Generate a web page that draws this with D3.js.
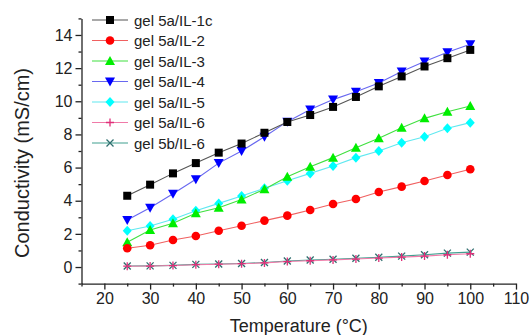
<!DOCTYPE html>
<html>
<head>
<meta charset="utf-8">
<script src="https://cdn.jsdelivr.net/npm/d3@7"></script>
<style>
  body { margin: 0; background: #fff; }
  svg text { font-family: Arial, "Liberation Sans", sans-serif; fill: #222; }
</style>
</head>
<body>
<svg width="531" height="335"></svg>
<script>
// temperatures (°C)
const temps = [25, 30, 35, 40, 45, 50, 55, 60, 65, 70, 75, 80, 85, 90, 95, 100];

// conductivity (mS/cm) per sample
const il1c = [4.3, 4.97, 5.65, 6.27, 6.9, 7.45, 8.1, 8.75, 9.17, 9.66, 10.26, 10.9, 11.5, 12.1, 12.6, 13.1];
const il2  = [1.13, 1.31, 1.63, 1.87, 2.19, 2.49, 2.8, 3.1, 3.44, 3.8, 4.1, 4.53, 4.85, 5.19, 5.55, 5.9];
const il3  = [1.49, 2.23, 2.64, 3.24, 3.58, 4.08, 4.69, 5.45, 6.05, 6.6, 7.2, 7.77, 8.4, 8.97, 9.37, 9.72];
const il4  = [2.84, 3.58, 4.42, 5.3, 6.27, 7.0, 7.86, 8.77, 9.5, 10.1, 10.58, 11.1, 11.8, 12.4, 12.96, 13.44];
const il5  = [2.19, 2.47, 2.88, 3.4, 3.84, 4.28, 4.75, 5.2, 5.65, 6.1, 6.6, 7.0, 7.5, 7.86, 8.37, 8.71];
const il6  = [0.05, 0.06, 0.09, 0.14, 0.17, 0.2, 0.25, 0.33, 0.38, 0.43, 0.48, 0.54, 0.6, 0.66, 0.74, 0.8];
const b_il6 = [0.06, 0.07, 0.1, 0.16, 0.18, 0.21, 0.27, 0.36, 0.42, 0.47, 0.53, 0.59, 0.66, 0.74, 0.84, 0.9];

const seriesNames = ["gel 5a/IL-1c", "gel 5a/IL-2", "gel 5a/IL-3", "gel 5a/IL-4", "gel 5a/IL-5", "gel 5a/IL-6", "gel 5b/IL-6"];
const seriesValues = [il1c, il2, il3, il4, il5, il6, b_il6];

const xTicks = [20, 30, 40, 50, 60, 70, 80, 90, 100, 110];
const yTicks = [0, 2, 4, 6, 8, 10, 12, 14];

// look of each series
const styles = [
  { line: "#555555", fill: "#000000", shape: "square" },
  { line: "#f06060", fill: "#ff0000", shape: "circle" },
  { line: "#40e040", fill: "#00ee00", shape: "triangle" },
  { line: "#6868f0", fill: "#0000ff", shape: "down" },
  { line: "#60e8f0", fill: "#00ffff", shape: "diamond" },
  { line: "#f07aa8", fill: "#e0307a", shape: "plus" },
  { line: "#40a090", fill: "#2f6f6f", shape: "cross" }
];

const svg = d3.select("svg");

const x = d3.scaleLinear().domain([15, 110]).range([81.5, 516]);
const y = d3.scaleLinear().domain([-1, 15]).range([283.6, 18.4]);

// axes (major + minor ticks)
svg.append("g")
  .attr("transform", `translate(0,${y(-1)})`)
  .call(d3.axisBottom(x).tickValues(xTicks).tickSize(6).tickSizeOuter(0).tickPadding(3));
svg.append("g")
  .attr("transform", `translate(0,${y(-1)})`)
  .call(d3.axisBottom(x).tickValues(d3.range(15, 111, 10)).tickSize(3).tickFormat(""))
  .select(".domain").remove();

svg.append("g")
  .attr("transform", `translate(${x(15)},0)`)
  .call(d3.axisLeft(y).tickValues(yTicks).tickSize(6).tickSizeOuter(0).tickPadding(3));
svg.append("g")
  .attr("transform", `translate(${x(15)},0)`)
  .call(d3.axisLeft(y).tickValues(d3.range(-1, 16, 2)).tickSize(3).tickFormat(""))
  .select(".domain").remove();

svg.selectAll(".tick text").style("font-size", "16px").style("fill", "#222");
svg.selectAll(".domain, .tick line").style("stroke", "#222").style("stroke-width", 1.3);

// axis titles
svg.append("text")
  .attr("x", (x(15) + x(110)) / 2)
  .attr("y", 332)
  .attr("text-anchor", "middle")
  .style("font-size", "18px")
  .text("Temperature (°C)");

svg.append("text")
  .attr("transform", "translate(29,163) rotate(-90)")
  .attr("text-anchor", "middle")
  .style("font-size", "20px")
  .text("Conductivity (mS/cm)");

// marker helper
function marker(g, shape, color) {
  if (shape === "square") {
    g.append("rect").attr("x", -4).attr("y", -4).attr("width", 8).attr("height", 8).attr("fill", color);
  } else if (shape === "circle") {
    g.append("circle").attr("r", 4.3).attr("fill", color);
  } else if (shape === "triangle") {
    g.append("path").attr("d", "M0,-5L5,4L-5,4Z").attr("fill", color);
  } else if (shape === "down") {
    g.append("path").attr("d", "M0,5L5,-4L-5,-4Z").attr("fill", color);
  } else if (shape === "diamond") {
    g.append("path").attr("d", "M0,-5L4.5,0L0,5L-4.5,0Z").attr("fill", color);
  } else if (shape === "plus") {
    g.append("path").attr("d", "M-4,0H4M0,-4V4").attr("stroke", color).attr("stroke-width", 1.3).attr("fill", "none");
  } else if (shape === "cross") {
    g.append("path").attr("d", "M-3.5,-3.5L3.5,3.5M-3.5,3.5L3.5,-3.5").attr("stroke", color).attr("stroke-width", 1.3).attr("fill", "none");
  }
}

const line = d3.line().x((d, i) => x(temps[i])).y(d => y(d));

// draw series in reverse so the first ones stay on top
seriesValues.slice().reverse().forEach((vals, ri) => {
  const k = seriesValues.length - 1 - ri;
  const st = styles[k];
  svg.append("path")
    .datum(vals)
    .attr("d", line)
    .attr("fill", "none")
    .attr("stroke", st.line)
    .attr("stroke-width", 1.1);
  vals.forEach((v, i) => {
    const g = svg.append("g").attr("transform", `translate(${x(temps[i])},${y(v)})`);
    marker(g, st.shape, st.fill);
  });
});

// legend
const legend = svg.append("g");
seriesNames.forEach((name, k) => {
  const yy = 20 + k * 20.5;
  const st = styles[k];
  legend.append("line")
    .attr("x1", 92).attr("x2", 128).attr("y1", yy).attr("y2", yy)
    .attr("stroke", st.line).attr("stroke-width", 1.1);
  marker(legend.append("g").attr("transform", `translate(110,${yy})`), st.shape, st.fill);
  legend.append("text")
    .attr("x", 134).attr("y", yy + 5.5)
    .style("font-size", "15px")
    .text(name);
});
</script>
</body>
</html>
